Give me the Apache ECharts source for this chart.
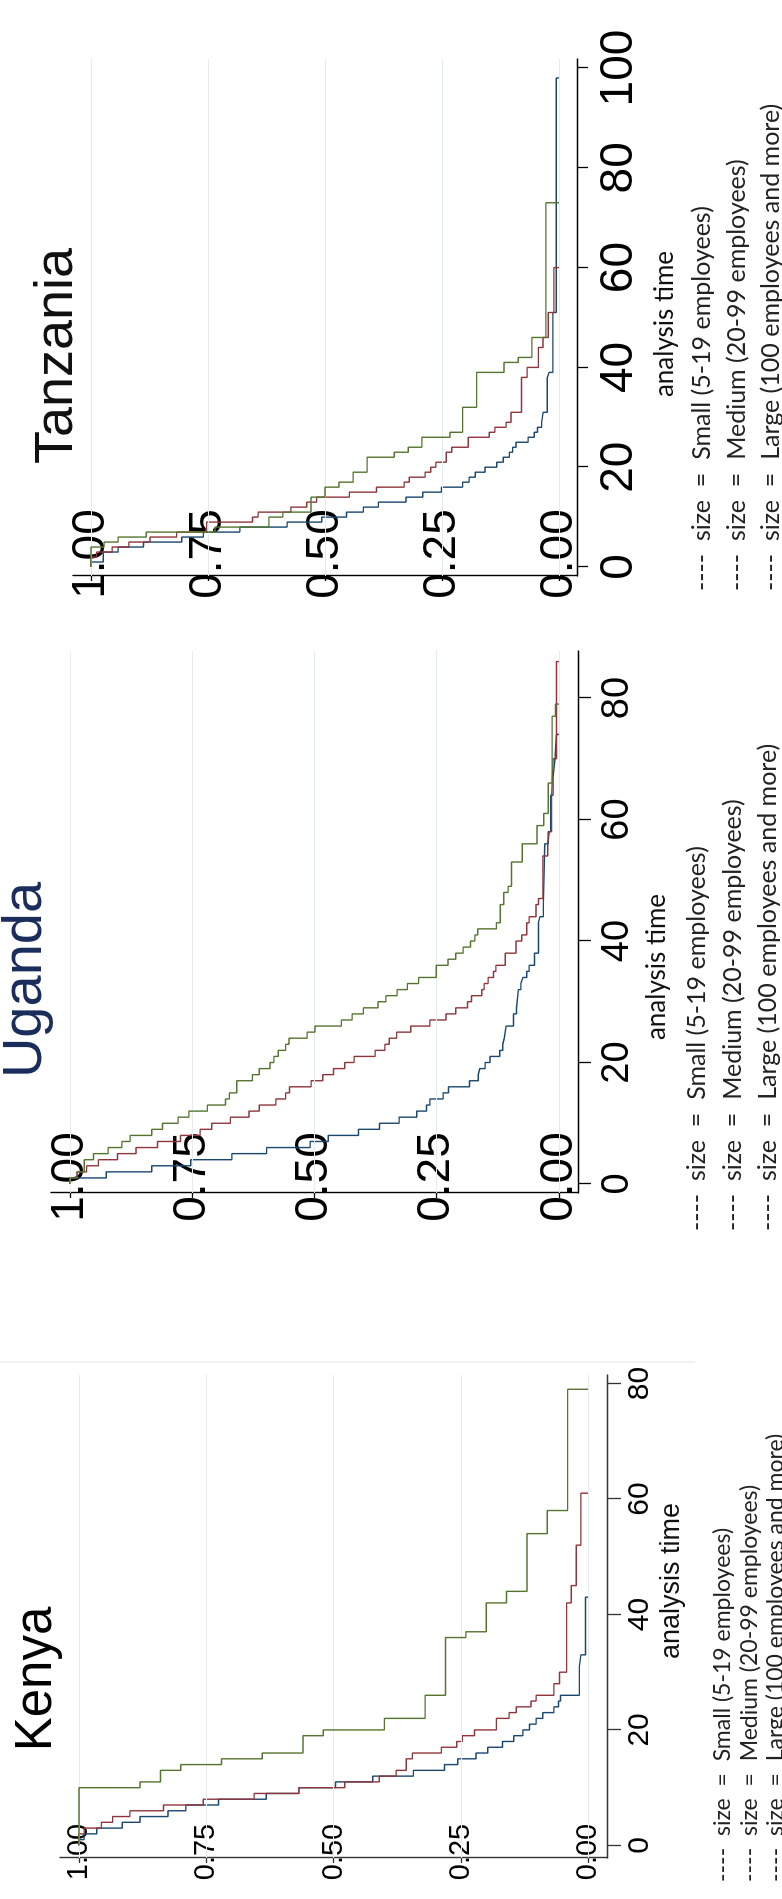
<!DOCTYPE html>
<html><head><meta charset="utf-8">
<script src="https://cdn.jsdelivr.net/npm/echarts@6/dist/echarts.min.js"></script>
<style>
html,body{margin:0;padding:0;width:782px;height:1899px;overflow:hidden;background:#fff;}
#chart{position:absolute;left:0;top:0;width:1899px;height:782px;transform-origin:0 0;transform:translate(0px,1899px) rotate(-90deg);}
</style></head><body><div id="chart"></div>
<script>
// ---------- data ----------
const countries = ['Kenya', 'Uganda', 'Tanzania'];
const sizeLabels = ['----  size  =  Small (5-19 employees)', '----  size  =  Medium (20-99 employees)', '----  size  =  Large (100 employees and more)'];
const axisTitle = 'analysis time';
const survivalTicks = [0, 0.25, 0.5, 0.75, 1];
const kenyaTimeTicks = [0, 20, 40, 60, 80];
const ugandaTimeTicks = [0, 20, 40, 60, 80];
const tanzaniaTimeTicks = [0, 20, 40, 60, 80, 100];

// [analysis time, survival after the step]
const kenyaSmall = [[0,1],[1,0.99],[2,0.965],[3,0.915],[4,0.88],[5,0.825],[6,0.79],[7,0.726],[8,0.632],[9,0.568],[10,0.496],[11,0.423],[12,0.343],[13,0.282],[14,0.256],[15,0.22],[16,0.197],[17,0.168],[18,0.146],[19,0.128],[20,0.115],[21,0.102],[22,0.089],[23,0.067],[24,0.058],[25,0.054],[26,0.017],[31,0.014],[33,0.005],[43,0]];
const kenyaMedium = [[0,1],[2,0.99],[3,0.956],[4,0.934],[5,0.9],[6,0.834],[7,0.756],[8,0.656],[9,0.568],[10,0.478],[11,0.41],[12,0.377],[13,0.357],[15,0.345],[16,0.288],[17,0.258],[18,0.247],[19,0.223],[20,0.18],[22,0.155],[23,0.141],[24,0.112],[25,0.102],[26,0.067],[28,0.056],[30,0.042],[42,0.033],[45,0.023],[52,0.014],[61,0]];
const kenyaLarge = [[0,1],[10,0.88],[11,0.84],[13,0.8],[14,0.72],[15,0.64],[16,0.56],[19,0.52],[20,0.4],[22,0.32],[26,0.28],[36,0.24],[37,0.2],[42,0.16],[44,0.12],[54,0.08],[58,0.04],[79,0]];

const ugandaSmall = [[0,1],[1,0.926],[2,0.833],[3,0.753],[4,0.669],[5,0.598],[6,0.509],[7,0.472],[8,0.41],[9,0.367],[10,0.327],[11,0.291],[12,0.271],[13,0.264],[14,0.237],[15,0.226],[16,0.183],[17,0.165],[18,0.162],[19,0.151],[20,0.141],[21,0.121],[22,0.115],[23,0.112],[24,0.108],[26,0.093],[28,0.087],[29,0.083],[32,0.078],[33,0.074],[34,0.066],[35,0.061],[36,0.05],[38,0.042],[43,0.039],[44,0.032],[46,0.029],[56,0.022],[58,0.017],[64,0.012],[67,0.008],[70,0.005],[74,0]];
const ugandaMedium = [[0,1],[1,0.986],[2,0.966],[3,0.942],[4,0.903],[5,0.865],[6,0.821],[7,0.774],[8,0.734],[9,0.71],[10,0.672],[11,0.634],[12,0.613],[13,0.579],[14,0.559],[15,0.551],[16,0.507],[17,0.483],[18,0.461],[19,0.438],[20,0.419],[21,0.376],[22,0.356],[23,0.347],[24,0.332],[25,0.303],[26,0.264],[27,0.231],[28,0.211],[29,0.187],[30,0.179],[31,0.158],[32,0.153],[33,0.145],[34,0.134],[35,0.129],[36,0.11],[38,0.088],[40,0.076],[41,0.066],[43,0.061],[44,0.047],[46,0.042],[47,0.033],[54,0.023],[56,0.02],[58,0.015],[64,0.012],[70,0.005],[86,0]];
const ugandaLarge = [[0,1],[1,0.985],[2,0.971],[4,0.952],[5,0.922],[6,0.894],[7,0.877],[8,0.833],[9,0.811],[10,0.779],[11,0.757],[12,0.719],[13,0.682],[14,0.674],[15,0.659],[17,0.627],[18,0.613],[19,0.591],[20,0.583],[21,0.574],[22,0.559],[23,0.552],[24,0.515],[25,0.499],[26,0.445],[27,0.423],[28,0.4],[29,0.37],[30,0.354],[31,0.331],[32,0.31],[33,0.287],[34,0.251],[36,0.227],[37,0.211],[38,0.196],[39,0.181],[40,0.172],[41,0.166],[42,0.128],[43,0.12],[46,0.113],[48,0.104],[49,0.097],[53,0.075],[56,0.045],[59,0.031],[61,0.022],[66,0.014],[77,0.007],[79,0]];

const tanzaniaSmall = [[0,1],[1,0.974],[3,0.942],[4,0.888],[5,0.806],[6,0.76],[7,0.682],[8,0.581],[9,0.507],[10,0.454],[11,0.418],[12,0.386],[13,0.327],[14,0.291],[15,0.251],[16,0.206],[17,0.192],[18,0.179],[19,0.158],[20,0.133],[21,0.119],[22,0.106],[23,0.099],[24,0.092],[25,0.066],[26,0.053],[27,0.046],[28,0.037],[29,0.034],[31,0.025],[38,0.021],[39,0.013],[51,0.006],[98,0]];
const tanzaniaMedium = [[0,1],[2,0.988],[3,0.955],[4,0.919],[5,0.874],[6,0.817],[7,0.753],[9,0.655],[10,0.643],[11,0.573],[12,0.539],[13,0.518],[14,0.448],[15,0.39],[16,0.331],[17,0.32],[18,0.286],[19,0.274],[20,0.263],[21,0.241],[23,0.229],[24,0.194],[26,0.149],[27,0.137],[28,0.113],[29,0.1025],[31,0.08],[38,0.068],[40,0.044],[44,0.034],[46,0.023],[51,0.011],[60,0]];
const tanzaniaLarge = [[0,1],[4,0.972],[5,0.942],[6,0.882],[7,0.735],[8,0.62],[10,0.59],[11,0.53],[14,0.5],[16,0.47],[17,0.44],[19,0.41],[22,0.352],[23,0.322],[24,0.293],[26,0.233],[27,0.206],[32,0.176],[39,0.1175],[41,0.087],[42,0.058],[46,0.028],[73,0]];

// ---------- styling / layout (chart is drawn unrotated, then the page turns it) ----------
const seriesColors = ['#1a476f', '#90353b', '#55752f'];
const ARIAL = '"Liberation Sans", Arial, Helvetica, sans-serif';
const NARROW = '"Liberation Sans Narrow", "Arial Narrow", "Liberation Sans", Arial, sans-serif';
const LEGENDF = 'Lato, "Open Sans", sans-serif';

const panels = [
  { name: countries[0], curves: [kenyaSmall, kenyaMedium, kenyaLarge], timeTicks: kenyaTimeTicks,
    grid: { left: 41, top: 60, width: 483, height: 547 }, tRange: [-2.18, 81.47], sRange: [-0.0373, 1.0373],
    axisColor: '#333', timeFont: 30, timeFamily: ARIAL, timeMargin: 18, tickLen: 14,
    survFont: 29, survFamily: ARIAL, survAlign: 'center', survMargin: -6, survShift: 23,
    title: { x: 220, y: 37, size: 51, color: '#000' },
    axisName: { x: 318, y: 672, font: '27px ' + ARIAL },
    legend: { x: 17, ys: [723, 750, 776], font: '23px ' + LEGENDF } },
  { name: countries[1], curves: [ugandaSmall, ugandaMedium, ugandaLarge], timeTicks: ugandaTimeTicks,
    grid: { left: 706, top: 51, width: 542, height: 527 }, tRange: [-1.481, 87.737], sRange: [-0.0389, 1.0389],
    axisColor: '#000', timeFont: 38, timeFamily: NARROW, timeMargin: 21, tickLen: 13,
    survFont: 46, survFamily: NARROW, survAlign: 'center', survMargin: -16, survShift: 5,
    title: { x: 919, y: 26, size: 56, color: '#1b2d5b' },
    axisName: { x: 932, y: 657, font: '26px ' + LEGENDF },
    legend: { x: 668, ys: [697, 733, 768], font: '25px ' + LEGENDF } },
  { name: countries[2], curves: [tanzaniaSmall, tanzaniaMedium, tanzaniaLarge], timeTicks: tanzaniaTimeTicks,
    grid: { left: 1323, top: 73, width: 517, height: 504 }, tRange: [-1.804, 101.804], sRange: [-0.0385, 1.0385],
    axisColor: '#000', timeFont: 46, timeFamily: NARROW, timeMargin: 19, tickLen: 11,
    survFont: 46, survFamily: NARROW, survAlign: 'center', survMargin: -22, survShift: 5,
    title: { x: 1543, y: 57, size: 54, color: '#111' },
    axisName: { x: 1575, y: 665, font: '26px ' + LEGENDF },
    legend: { x: 1308, ys: [702, 737, 771], font: '25px ' + LEGENDF } }
];

const option = { animation: false, backgroundColor: '#fff', grid: [], xAxis: [], yAxis: [], series: [], graphic: [] };

panels.forEach((p, i) => {
  option.grid.push(Object.assign({ containLabel: false }, p.grid));
  option.xAxis.push({
    type: 'value', gridIndex: i, min: p.tRange[0], max: p.tRange[1],
    splitLine: { show: false },
    axisLine: { show: true, onZero: false, lineStyle: { color: p.axisColor, width: 1.4 } },
    axisTick: { show: true, length: p.tickLen, customValues: p.timeTicks, lineStyle: { color: p.axisColor, width: 1.3 } },
    axisLabel: { show: true, customValues: p.timeTicks, margin: p.timeMargin, color: '#000',
      fontSize: p.timeFont, fontFamily: p.timeFamily, formatter: v => String(v) }
  });
  option.yAxis.push({
    type: 'value', gridIndex: i, min: p.sRange[0], max: p.sRange[1],
    splitLine: { show: false },
    axisLine: { show: true, onZero: false, lineStyle: { color: p.axisColor, width: 1.4 } },
    axisTick: { show: true, length: 5, customValues: survivalTicks, lineStyle: { color: p.axisColor, width: 1.3 } },
    axisLabel: { show: true, customValues: survivalTicks, margin: p.survMargin, color: '#000',
      align: p.survAlign, verticalAlign: 'middle', padding: [0, 0, 2 * p.survShift, 0],
      fontSize: p.survFont, fontFamily: p.survFamily, formatter: v => v.toFixed(2) }
  });
  // gridlines at the survival ticks
  option.series.push({
    type: 'line', xAxisIndex: i, yAxisIndex: i, data: [[0, 0]], symbol: 'none', z: 1, silent: true,
    lineStyle: { opacity: 0 },
    markLine: { silent: true, symbol: 'none', label: { show: false },
      lineStyle: { color: '#e3edf0', width: 1.2, type: 'solid' },
      data: survivalTicks.map(v => ({ yAxis: v })) }
  });
  p.curves.forEach((d, k) => {
    option.series.push({
      type: 'line', name: sizeLabels[k], xAxisIndex: i, yAxisIndex: i, data: d, step: 'end',
      symbol: 'none', showSymbol: false, z: 3 + k,
      lineStyle: { color: seriesColors[k], width: 1.4 }
    });
  });
  option.graphic.push({ type: 'text', x: p.title.x, y: p.title.y, z: 10,
    style: { text: p.name, font: p.title.size + 'px ' + ARIAL, fill: p.title.color, align: 'center', verticalAlign: 'middle' } });
  option.graphic.push({ type: 'text', x: p.axisName.x, y: p.axisName.y, z: 10,
    style: { text: axisTitle, font: p.axisName.font, fill: '#111', align: 'center', verticalAlign: 'middle' } });
  sizeLabels.forEach((t, k) => {
    option.graphic.push({ type: 'text', x: p.legend.x, y: p.legend.ys[k], z: 10,
      style: { text: t, font: p.legend.font, fill: '#222', align: 'left', verticalAlign: 'middle' } });
  });
});
// thin frame line of the Kenya sub-graph
option.graphic.push({ type: 'line', z: 0, shape: { x1: 537, y1: 0, x2: 537, y2: 695 }, style: { stroke: '#e6e8e8', lineWidth: 1.2 } });

const chart = echarts.init(document.getElementById('chart'), null, { renderer: 'canvas', width: 1899, height: 782 });
chart.setOption(option);
</script></body></html>
